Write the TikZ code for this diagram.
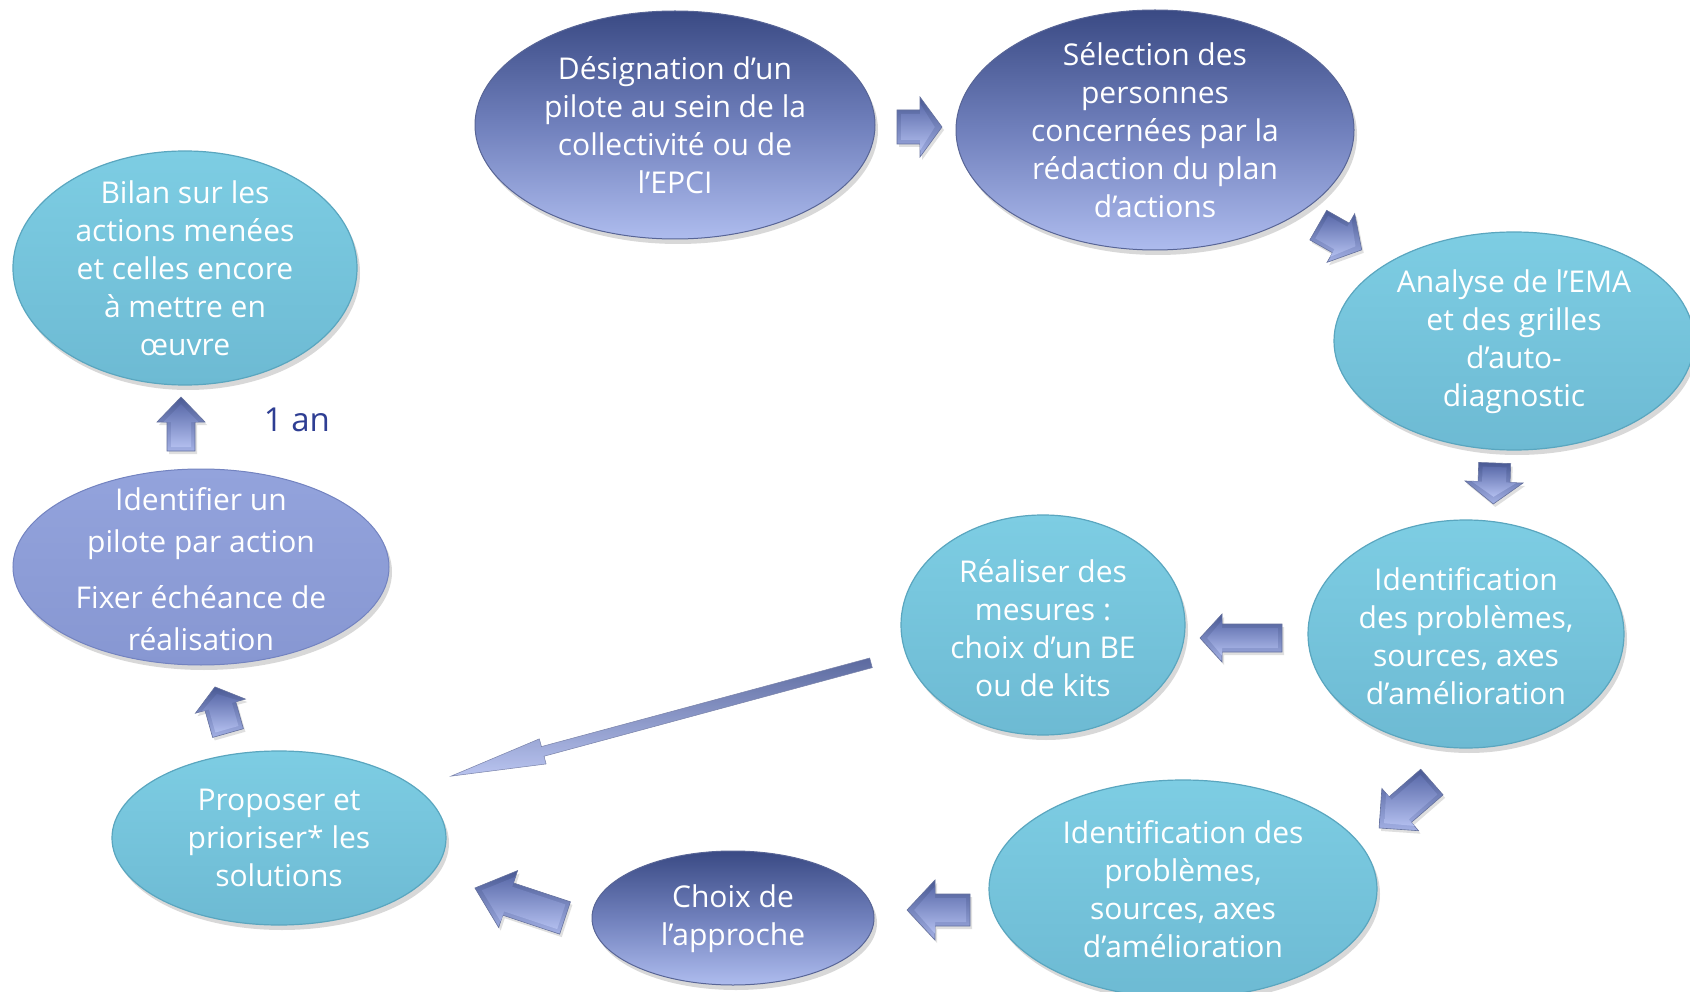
\documentclass[tikz,border=0pt]{standalone}
\usepackage{fontspec}
\setmainfont{Open Sans}
\usetikzlibrary{shapes.geometric,shadows}
\definecolor{dkA}{HTML}{3A4A84}
\definecolor{dkM}{HTML}{7080BC}
\definecolor{dkB}{HTML}{AEBCEE}
\definecolor{cyA}{HTML}{7DCDE3}
\definecolor{cyB}{HTML}{6DBAD3}
\definecolor{cyR}{HTML}{5AA6BF}
\definecolor{puA}{HTML}{93A3DC}
\definecolor{puB}{HTML}{8797D2}
\definecolor{puR}{HTML}{7383C0}
\definecolor{arA}{HTML}{4A5A95}
\definecolor{arB}{HTML}{A3B0E4}
\definecolor{faA}{HTML}{5D6DAC}
\definecolor{faB}{HTML}{B2BEEE}
\definecolor{arR}{HTML}{3F4D84}
\definecolor{anC}{HTML}{2E3E93}
\tikzset{
  bub/.style={ellipse, inner sep=0pt,
    drop shadow={shadow xshift=3pt, shadow yshift=-5pt, opacity=0.3}},
  darkbub/.style={bub, top color=dkA, bottom color=dkB, middle color=dkM, draw=dkA!85, line width=1pt},
  cybub/.style={bub, top color=cyA, bottom color=cyB, draw=cyR, line width=1.2pt},
  pubub/.style={bub, top color=puA, bottom color=puB, draw=puR, line width=1pt},
  txt/.style={text=white, align=center, inner sep=0pt, font=\fontsize{30}{38}\selectfont},
  arrsty/.style={top color=arA, bottom color=arB, draw=arR!80, line width=0.6pt, line join=miter,
    drop shadow={shadow xshift=2pt, shadow yshift=-3pt, opacity=0.25}},
  facesty/.style={top color=faA, bottom color=faB},
  thinarr/.style={top color=arA, bottom color=faB, draw=arR!70, line width=0.5pt, fill opacity=0.9}
}
% #1 x, #2 y, #3 angle, #4 length, #5 shaft half, #6 head half, #7 head length, #8 inset
\newcommand\blockarr[8]{%
  \begin{scope}[shift={(#1,#2)}, x={({cos(#3)*1pt},{sin(#3)*1pt})}, y={({-sin(#3)*1pt},{cos(#3)*1pt})}]
    \path[arrsty] (-#4/2,-#5) -- (#4/2-#7,-#5) -- (#4/2-#7,-#6) -- (#4/2,0)
      -- (#4/2-#7,#6) -- (#4/2-#7,#5) -- (-#4/2,#5) -- cycle;
    \path[facesty] (-#4/2+#8,-#5+#8) -- (#4/2-#7,-#5+#8) -- (#4/2-#7,-#6+1.6*#8) -- (#4/2-1.8*#8,0)
      -- (#4/2-#7,#6-1.6*#8) -- (#4/2-#7,#5-#8) -- (-#4/2+#8,#5-#8) -- cycle;
  \end{scope}}
\newcommand\thinarrow[7]{%
  \begin{scope}[shift={(#1,#2)}, x={({cos(#3)*1pt},{sin(#3)*1pt})}, y={({-sin(#3)*1pt},{cos(#3)*1pt})}]
    \path[thinarr] (-#4/2,-#5) -- (#4/2-#7,-#5) -- (#4/2-#7,-#6) -- (#4/2,0)
      -- (#4/2-#7,#6) -- (#4/2-#7,#5) -- (-#4/2,#5) -- cycle;
  \end{scope}}
\begin{document}
\begin{tikzpicture}[x=1pt, y=-1pt]
\useasboundingbox (0,0) rectangle (1690,992);
\fill[white] (0,0) rectangle (1690,992);

% ellipses
\node[darkbub, minimum width=400pt, minimum height=228pt] (des) at (675,125) {};
\node[darkbub, minimum width=398pt, minimum height=240pt] (sel) at (1155,130) {};
\node[cybub, minimum width=360pt, minimum height=218pt] (ana) at (1514,341) {};
\node[cybub, minimum width=316pt, minimum height=228pt] (idr) at (1466,634) {};
\node[cybub, minimum width=284pt, minimum height=220pt] (rea) at (1043,625) {};
\node[cybub, minimum width=388pt, minimum height=218pt] (idb) at (1183,889) {};
\node[darkbub, minimum width=282pt, minimum height=134pt] (cho) at (733,918) {};
\node[cybub, minimum width=334pt, minimum height=174pt] (pro) at (279,838) {};
\node[pubub, minimum width=376pt, minimum height=196pt] (idp) at (201,567) {};
\node[cybub, minimum width=344pt, minimum height=234pt] (bil) at (185,268) {};

% texts
\node[txt] (desT) at (des) {Désignation d’un\\pilote au sein de la\\collectivité ou de\\l’EPCI};
\node[txt] (selT) at (sel) {Sélection des\\personnes\\concernées par la\\rédaction du plan\\d’actions};
\node[txt] (anaT) at (1514,342) {Analyse de l’EMA\\et des grilles\\d’auto-\\diagnostic};
\node[txt] (idrT) at (1466,636) {Identification\\des problèmes,\\sources, axes\\d’amélioration};
\node[txt] (reaT) at (1043,628) {Réaliser des\\mesures :\\choix d’un BE\\ou de kits};
\node[txt] (idbT) at (1183,889) {Identification des\\problèmes,\\sources, axes\\d’amélioration};
\node[txt] (choT) at (733,919) {Choix de\\l’approche};
\node[txt] (proT) at (279,838) {Proposer et\\prioriser* les\\solutions};
\node[txt, font=\fontsize{30}{42}\selectfont] (idpT) at (201,569) {Identifier un\\pilote par action\\[14pt]Fixer échéance de\\réalisation};
\node[txt] (bilT) at (bil) {Bilan sur les\\actions menées\\et celles encore\\à mettre en\\œuvre};
\node[text=anC, font=\fontsize{33}{40}\selectfont, inner sep=0pt] (an) at (297,420) {1 an};

% block arrows (angles counter-clockwise on the page)
\blockarr{919.5}{127}{0}{45}{17}{30}{22}{4}
\blockarr{1340}{237.5}{-29.6}{50}{17}{28}{24}{4}
\blockarr{1494}{483.5}{-92}{41}{16}{29}{22}{4}
\blockarr{1241}{638}{180}{82}{14}{24}{22}{4}
\blockarr{1405.5}{805}{221}{70}{17}{28}{28}{4}
\blockarr{938.5}{910}{180}{63}{16}{30}{28}{4}
\blockarr{520}{903}{161.6}{95}{17}{30}{35}{4}
\blockarr{221.5}{710}{105.8}{48}{16}{26}{20}{4}
\blockarr{181}{424}{90}{54}{14}{24}{25}{4}
% long thin arrow from Réaliser towards Proposer
\thinarrow{661}{719.5}{195.1}{435}{5}{13}{95}
\end{tikzpicture}
\end{document}
